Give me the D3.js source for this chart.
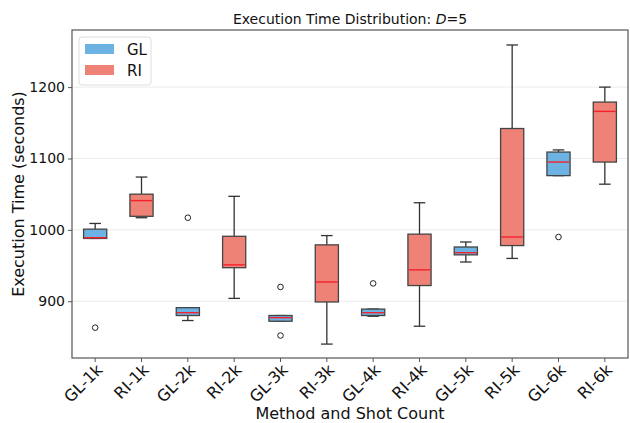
<!DOCTYPE html>
<html>
<head>
<meta charset="utf-8">
<script src="https://d3js.org/d3.v7.min.js"></script>
<style>
  body { margin: 0; background: #fff; }
  svg text { font-family: "DejaVu Sans", sans-serif; fill: #111; }
</style>
</head>
<body>
<script>
// categories and box statistics
var categories = ["GL-1k","RI-1k","GL-2k","RI-2k","GL-3k","RI-3k","GL-4k","RI-4k","GL-5k","RI-5k","GL-6k","RI-6k"];
var methods    = ["GL","RI","GL","RI","GL","RI","GL","RI","GL","RI","GL","RI"];
var whiskerLow = [988, 1017, 873, 904, 872, 840, 879, 865, 955, 960, 1076, 1064];
var q1         = [988, 1019, 880, 947, 872, 899, 880, 922, 965, 978, 1076, 1095];
var medians    = [989, 1041, 884, 951, 877, 927, 884, 944, 968, 990, 1095, 1166];
var q3         = [1001, 1050, 891, 991, 880, 979, 889, 994, 976, 1142, 1109, 1179];
var whiskerHigh= [1009, 1074, 891, 1047, 880, 992, 889, 1038, 983, 1259, 1112, 1200];
var outliers   = [[863], [], [1017], [], [920, 852], [], [925], [], [], [], [990], []];
var yTicks = [900, 1000, 1100, 1200];

var boxes = categories.map(function(c, i) {
    return {name: c, method: methods[i], lo: whiskerLow[i], q1: q1[i], med: medians[i],
            q3: q3[i], hi: whiskerHigh[i], fliers: outliers[i]};
});

var width = 630, height = 423;
var margin = {top: 30, right: 2, bottom: 65, left: 72};

var svg = d3.select("body").append("svg")
    .attr("width", width)
    .attr("height", height);

var x = d3.scaleBand()
    .domain(categories)
    .range([margin.left, width - margin.right])
    .paddingInner(0)
    .paddingOuter(0);

var y = d3.scaleLinear()
    .domain([820.5, 1280])
    .range([height - margin.bottom, margin.top]);

var color = d3.scaleOrdinal()
    .domain(["GL", "RI"])
    .range(["#6cb3e3", "#ee8276"]);

// grid
svg.append("g").selectAll("line")
    .data(yTicks)
    .enter().append("line")
    .attr("x1", margin.left).attr("x2", width - margin.right)
    .attr("y1", function(d) { return y(d); })
    .attr("y2", function(d) { return y(d); })
    .attr("stroke", "#ebebeb")
    .attr("stroke-width", 1);

var boxW = x.bandwidth() * 0.5;
var capW = boxW * 0.5;

var g = svg.append("g").selectAll("g")
    .data(boxes)
    .enter().append("g")
    .attr("transform", function(d) { return "translate(" + (x(d.name) + x.bandwidth() / 2) + ",0)"; });

// whiskers
g.append("line")
    .attr("y1", function(d) { return y(d.hi); })
    .attr("y2", function(d) { return y(d.q3); })
    .attr("stroke", "#333").attr("stroke-width", 1.3);
g.append("line")
    .attr("y1", function(d) { return y(d.lo); })
    .attr("y2", function(d) { return y(d.q1); })
    .attr("stroke", "#333").attr("stroke-width", 1.3);
g.append("line")
    .attr("x1", -capW / 2).attr("x2", capW / 2)
    .attr("y1", function(d) { return y(d.hi); })
    .attr("y2", function(d) { return y(d.hi); })
    .attr("stroke", "#333").attr("stroke-width", 1.3);
g.append("line")
    .attr("x1", -capW / 2).attr("x2", capW / 2)
    .attr("y1", function(d) { return y(d.lo); })
    .attr("y2", function(d) { return y(d.lo); })
    .attr("stroke", "#333").attr("stroke-width", 1.3);

// boxes
g.append("rect")
    .attr("x", -boxW / 2)
    .attr("width", boxW)
    .attr("y", function(d) { return y(d.q3); })
    .attr("height", function(d) { return Math.max(1, y(d.q1) - y(d.q3)); })
    .attr("fill", function(d) { return color(d.method); })
    .attr("stroke", "#444")
    .attr("stroke-width", 1.3);

// medians
g.append("line")
    .attr("x1", -boxW / 2 + 0.7).attr("x2", boxW / 2 - 0.7)
    .attr("y1", function(d) { return y(d.med); })
    .attr("y2", function(d) { return y(d.med); })
    .attr("stroke", "#f5222d").attr("stroke-width", 1.4);

// outliers
g.selectAll("circle")
    .data(function(d) { return d.fliers; })
    .enter().append("circle")
    .attr("cy", function(d) { return y(d); })
    .attr("r", 2.8)
    .attr("fill", "none")
    .attr("stroke", "#222")
    .attr("stroke-width", 1);

// axes
var yAxis = svg.append("g")
    .attr("transform", "translate(" + margin.left + ",0)")
    .call(d3.axisLeft(y).tickValues(yTicks).tickFormat(d3.format("d")).tickSize(4).tickPadding(3));
yAxis.select(".domain").remove();
yAxis.selectAll("text").style("font-size", "14px");
yAxis.selectAll("line").attr("stroke", "#555");

var xAxis = svg.append("g")
    .attr("transform", "translate(0," + (height - margin.bottom) + ")")
    .call(d3.axisBottom(x).tickSize(4).tickPadding(3));
xAxis.select(".domain").remove();
xAxis.selectAll("line").attr("stroke", "#555");
xAxis.selectAll("text")
    .style("font-size", "16px")
    .style("text-anchor", "end")
    .attr("dx", "-0.2em")
    .attr("dy", "0.5em")
    .attr("transform", "rotate(-45)");

// frame
svg.append("rect")
    .attr("x", margin.left).attr("y", margin.top)
    .attr("width", width - margin.right - margin.left)
    .attr("height", height - margin.bottom - margin.top)
    .attr("fill", "none")
    .attr("stroke", "#555")
    .attr("stroke-width", 1.2);

// title
var title = svg.append("text")
    .attr("x", (margin.left + width - margin.right) / 2)
    .attr("y", 24)
    .attr("text-anchor", "middle")
    .style("font-size", "14px");
title.append("tspan").text("Execution Time Distribution: ");
title.append("tspan").style("font-style", "italic").text("D");
title.append("tspan").text("=5");

svg.append("text")
    .attr("x", (margin.left + width - margin.right) / 2)
    .attr("y", 419)
    .attr("text-anchor", "middle")
    .style("font-size", "16px")
    .text("Method and Shot Count");

svg.append("text")
    .attr("transform", "translate(24," + ((margin.top + height - margin.bottom) / 2) + ") rotate(-90)")
    .attr("text-anchor", "middle")
    .style("font-size", "16px")
    .text("Execution Time (seconds)");

// legend
var legend = svg.append("g").attr("transform", "translate(79,37)");
legend.append("rect")
    .attr("width", 72).attr("height", 48)
    .attr("rx", 3)
    .attr("fill", "#fff")
    .attr("fill-opacity", 0.8)
    .attr("stroke", "#ddd");
var item = legend.selectAll("g.item")
    .data(color.domain())
    .enter().append("g")
    .attr("class", "item")
    .attr("transform", function(d, i) { return "translate(6," + (7 + i * 21) + ")"; });
item.append("rect")
    .attr("width", 29).attr("height", 10)
    .attr("fill", function(d) { return color(d); });
item.append("text")
    .attr("x", 42).attr("y", 10.5)
    .style("font-size", "15px")
    .text(function(d) { return d; });
</script>
</body>
</html>
